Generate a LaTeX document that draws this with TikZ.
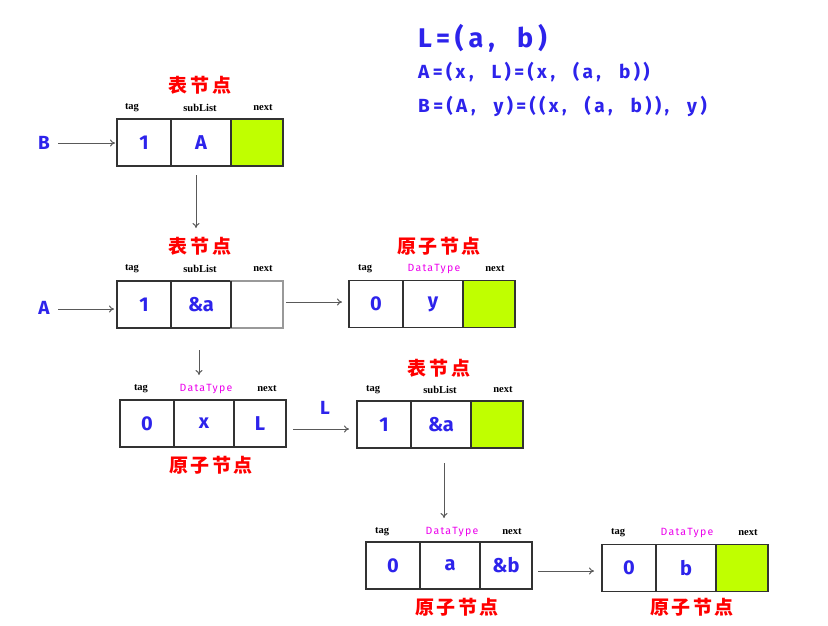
\documentclass[tikz,border=0pt]{standalone}
\usepackage{fontspec}
\setmainfont{Liberation Serif}
\newfontfamily\cjk{Noto Sans CJK SC}[LetterSpace=14]
\newfontfamily\hand{Fira Sans}
\newfontfamily\handw{Fira Sans}[LetterSpace=18]
\newfontfamily\handdt{Fira Sans}[LetterSpace=12]
\usetikzlibrary{arrows.meta}
\definecolor{hblue}{RGB}{45,35,235}
\definecolor{lgreen}{RGB}{192,255,0}
\definecolor{boxc}{RGB}{50,50,50}
\definecolor{mag}{RGB}{235,0,235}
\newcommand\cm{,\hspace{18pt}}
\tikzset{
  cell/.style={draw=boxc, line width=1.2pt, minimum height=47pt, inner sep=0pt, outer sep=0pt, anchor=west,
    font=\hand\bfseries\fontsize{20}{20}\selectfont, text=hblue},
  ca/.style={cell, minimum width=54pt},
  cb/.style={cell, minimum width=60pt},
  cc/.style={cell, minimum width=52pt},
  green/.style={fill=lgreen},
  lbl/.style={font=\bfseries\fontsize{10.5}{11}\selectfont, inner sep=0pt},
  dt/.style={font=\handdt\fontsize{10.5}{11}\selectfont, text=mag, inner sep=0pt},
  title/.style={font=\cjk\bfseries\fontsize{19}{19}\selectfont, text=red, inner sep=0pt},
  ptr/.style={font=\hand\bfseries\fontsize{19}{19}\selectfont, text=hblue, inner sep=0pt},
  frm/.style={font=\handw\bfseries\fontsize{19}{19}\selectfont, text=hblue, inner sep=0pt, anchor=west},
  arr/.style={draw=black!65, line width=1pt, -{To[length=5pt,width=7pt]}}
}
\begin{document}
\begin{tikzpicture}[x=1pt,y=-1pt]
\useasboundingbox (0,0) rectangle (828,625);
% formulas
\node[frm, font=\handw\bfseries\fontsize{27}{27}\selectfont] (f1) at (418,38) {L=(a,\ \ b)};
\node[frm] (f2) at (418,72) {A=(x\cm L)=(x\cm (a\cm b))};
\node[frm] (f3) at (418,106) {B=(A\cm y)=((x\cm (a\cm b))\cm y)};

% node B
\node[title] (tB) at (200,85) {表节点};
\node[lbl] (tagB) at (132,108) {tag};
\node[lbl] (subB) at (200,108) {subList};
\node[lbl] (nxtB) at (263,108) {next};
\node[ca] (B1) at (117,142.5) {1};
\node[cb] (B2) at (B1.east) {A};
\node[cc, green] (B3) at (B2.east) {};
\node[ptr] (pB) at (44,143) {B};
\coordinate (eB) at (115,143);
\draw[arr] (58,143) -- (eB);
\coordinate (vB1) at (196,175);
\coordinate (vB2) at (196,228);
\draw[arr] (vB1) -- (vB2);

% node A
\node[title] (tA) at (200,246) {表节点};
\node[lbl] (tagA) at (132,269) {tag};
\node[lbl] (subA) at (200,269) {subList};
\node[lbl] (nxtA) at (263,269) {next};
\node[ca] (A1) at (117,304.5) {1};
\node[cb] (A2) at (A1.east) {\&a};
\node[cc, draw=black!40] (A3) at (A2.east) {};
\draw[boxc, line width=1.2pt] (A2.north east) -- (A2.south east);
\node[ptr] (pA) at (44,308) {A};
\coordinate (sA) at (58,309);
\coordinate (eA) at (114,309);
\draw[arr] (sA) -- (eA);

% node Y
\node[title] (tY) at (439,246) {原子节点};
\node[lbl] (tagY) at (365,269) {tag};
\node[dt] (dtY) at (434,269) {DataType};
\node[lbl] (nxtY) at (495,269) {next};
\node[ca] (Y1) at (349,304) {0};
\node[cb] (Y2) at (Y1.east) {y};
\node[cc, green] (Y3) at (Y2.east) {};
\coordinate (sY) at (286,302);
\coordinate (eY) at (342,302);
\draw[arr] (sY) -- (eY);

% node X
\node[lbl] (tagX) at (141,389) {tag};
\node[dt] (dtX) at (206,389) {DataType};
\node[lbl] (nxtX) at (267,389) {next};
\node[ca] (X1) at (120,423.5) {0};
\node[cb] (X2) at (X1.east) {x};
\node[cc] (X3) at (X2.east) {L};
\node[title] (tX) at (211,465) {原子节点};
\coordinate (vX1) at (199,350);
\coordinate (vX2) at (199,375);
\draw[arr] (vX1) -- (vX2);

% node L
\node[title] (tL) at (439,368) {表节点};
\node[lbl] (tagL) at (373,390) {tag};
\node[lbl] (subL) at (440,390) {subList};
\node[lbl] (nxtL) at (503,390) {next};
\node[ca] (L1) at (357,424.5) {1};
\node[cb] (L2) at (L1.east) {\&a};
\node[cc, green] (L3) at (L2.east) {};
\coordinate (sL) at (293,429);
\coordinate (eL) at (349,429);
\draw[arr] (sL) -- (eL);
\node[ptr] (pL) at (325,408) {L};

% node ab
\node[lbl] (tagAB) at (382,532) {tag};
\node[dt] (dtAB) at (452,532) {DataType};
\node[lbl] (nxtAB) at (512,532) {next};
\node[ca] (AB1) at (366,565.5) {0};
\node[cb] (AB2) at (AB1.east) {a};
\node[cc] (AB3) at (AB2.east) {\&b};
\node[title] (tAB) at (457,607) {原子节点};
\coordinate (vL1) at (444,463);
\coordinate (vL2) at (444,518);
\draw[arr] (vL1) -- (vL2);

% node b
\node[lbl] (tagBB) at (618,533) {tag};
\node[dt] (dtBB) at (687,533) {DataType};
\node[lbl] (nxtBB) at (748,533) {next};
\node[ca] (BB1) at (602,568) {0};
\node[cb] (BB2) at (BB1.east) {b};
\node[cc, green] (BB3) at (BB2.east) {};
\node[title] (tBB) at (692,607) {原子节点};
\coordinate (sAB) at (538,571);
\coordinate (eAB) at (594,571);
\draw[arr] (sAB) -- (eAB);
\end{tikzpicture}
\end{document}
